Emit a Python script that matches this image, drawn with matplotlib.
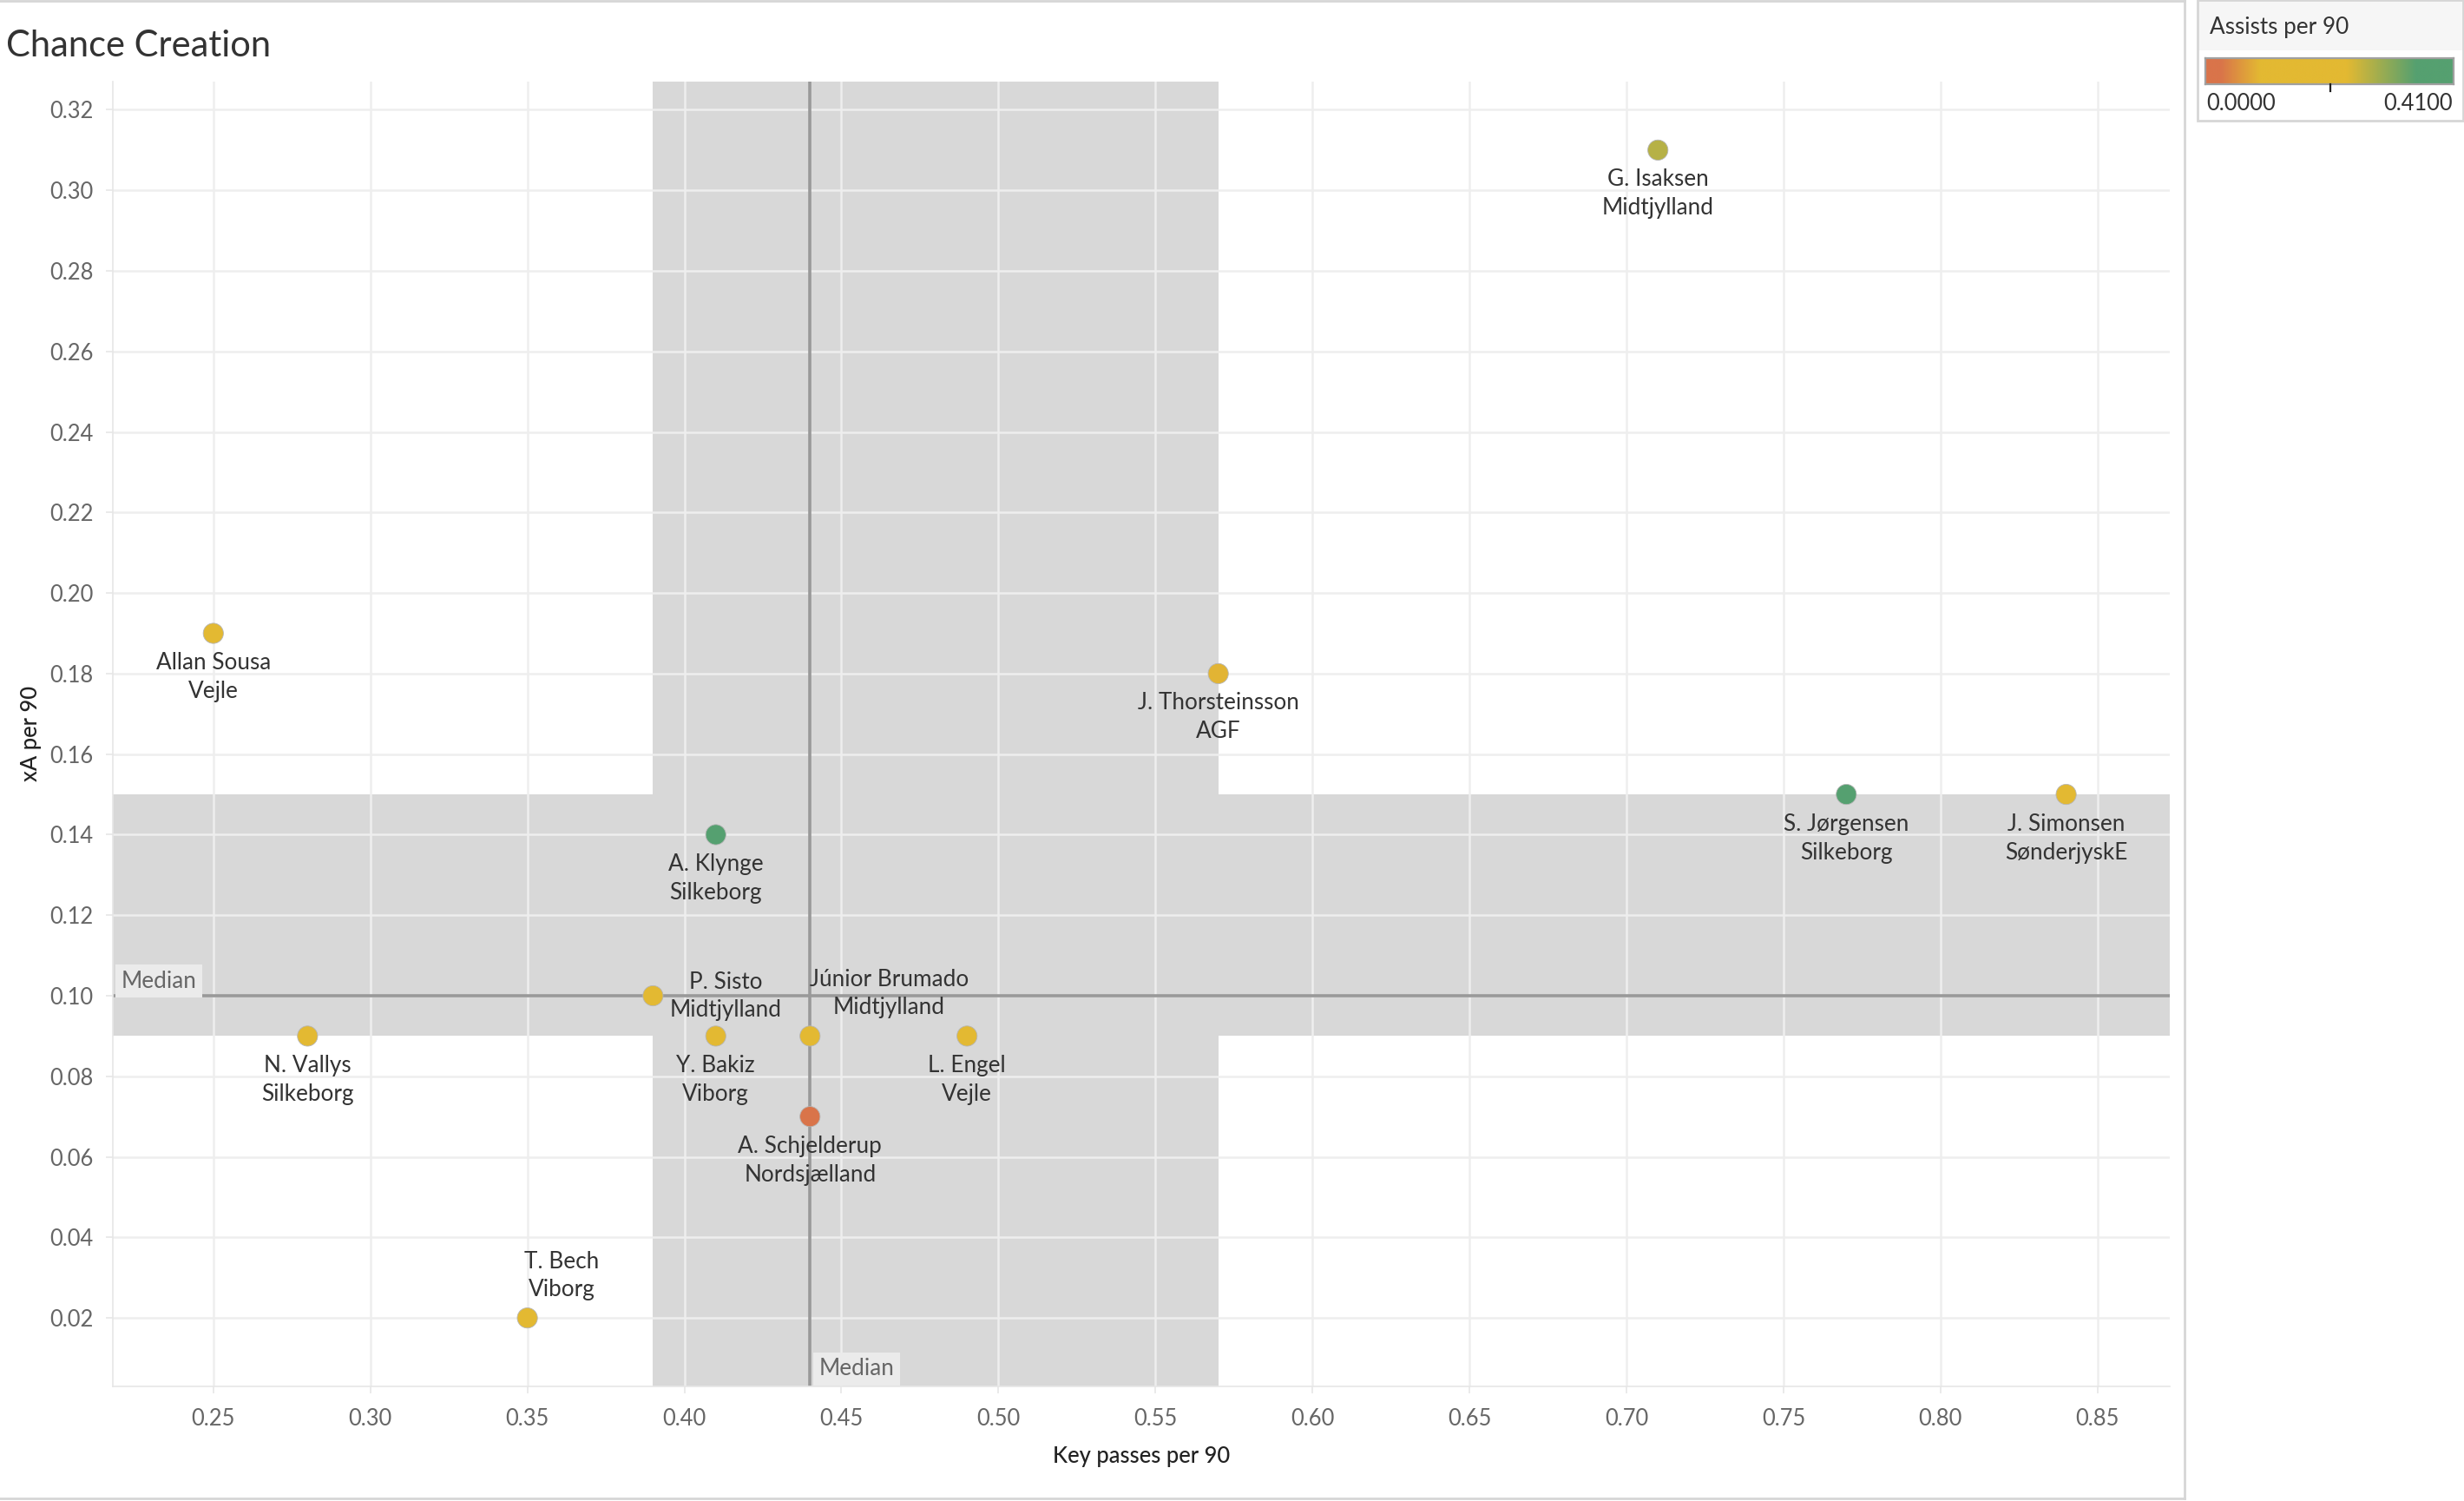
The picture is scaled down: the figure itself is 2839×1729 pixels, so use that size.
import numpy as np
import matplotlib.pyplot as plt
from matplotlib.colors import LinearSegmentedColormap, Normalize
from matplotlib.lines import Line2D
from matplotlib.patches import Rectangle

plt.rcParams['font.family'] = ['Lato', 'DejaVu Sans']

# data
players = ["G. Isaksen", "Allan Sousa", "J. Thorsteinsson", "S. Jørgensen", "J. Simonsen",
           "A. Klynge", "P. Sisto", "Júnior Brumado", "N. Vallys", "Y. Bakiz",
           "L. Engel", "A. Schjelderup", "T. Bech"]
teams = ["Midtjylland", "Vejle", "AGF", "Silkeborg", "SønderjyskE",
         "Silkeborg", "Midtjylland", "Midtjylland", "Silkeborg", "Viborg",
         "Vejle", "Nordsjælland", "Viborg"]
key_passes = [0.71, 0.25, 0.57, 0.77, 0.84, 0.41, 0.39, 0.44, 0.28, 0.41, 0.49, 0.44, 0.35]
xa = [0.31, 0.19, 0.18, 0.15, 0.15, 0.14, 0.10, 0.09, 0.09, 0.09, 0.09, 0.07, 0.02]
assists = [0.27, 0.14, 0.085, 0.37, 0.15, 0.41, 0.12, 0.18, 0.11, 0.20, 0.13, 0.0, 0.10]

median_x = 0.44
median_y = 0.10
band_x = (0.39, 0.57)
band_y = (0.09, 0.15)
assists_range = (0.0, 0.41)

x_ticks = [0.25, 0.30, 0.35, 0.40, 0.45, 0.50, 0.55, 0.60, 0.65, 0.70, 0.75, 0.80, 0.85]
y_ticks = [0.02, 0.04, 0.06, 0.08, 0.10, 0.12, 0.14, 0.16, 0.18, 0.20, 0.22, 0.24, 0.26, 0.28, 0.30, 0.32]

# label placement in pixels: (dx, dy line1, dy line2)
below = (0, -34, -67)
label_pos = {
    "P. Sisto": (84, 16, -16),
    "Júnior Brumado": (91, 65, 33),
    "T. Bech": (40, 65, 33),
}

W, H, DPI = 2839, 1729, 200
fig = plt.figure(figsize=(W / DPI, H / DPI), dpi=DPI)

def fx(px):
    return px / W

def fy(py):
    return 1 - py / H

ax = fig.add_axes([fx(130), fy(1597), fx(2500) - fx(130), fy(94) - fy(1597)])

cmap = LinearSegmentedColormap.from_list("tab", [
    (0.0, "#d9744a"), (0.06, "#d9744a"), (0.22, "#e3b932"),
    (0.57, "#e3b932"), (0.85, "#55a070"), (1.0, "#55a070")])
norm = Normalize(*assists_range)

band_col = "#d8d8d8"
ax.axvspan(*band_x, color=band_col, lw=0, zorder=0)
ax.axhspan(*band_y, color=band_col, lw=0, zorder=0)
ax.set_axisbelow(True)
ax.grid(True, color="#eeeeee", lw=0.9)

ax.axvline(median_x, color="#999999", lw=1.3, zorder=1)
ax.axhline(median_y, color="#999999", lw=1.3, zorder=1)

ax.scatter(key_passes, xa, s=70, c=assists, cmap=cmap, norm=norm,
           edgecolors="#b5b5b5", linewidths=0.3, zorder=3)

lab_fs = 9.4
for name, team, x, y in zip(players, teams, key_passes, xa):
    dx, dy1, dy2 = label_pos.get(name, below)
    ax.annotate(name, (x, y), xytext=(dx, dy1), textcoords="offset pixels",
                ha="center", va="center", fontsize=lab_fs, color="#333333", zorder=4)
    ax.annotate(team, (x, y), xytext=(dx, dy2), textcoords="offset pixels",
                ha="center", va="center", fontsize=lab_fs, color="#333333", zorder=4)

ax.set_xlim(0.218, 0.873)
ax.set_ylim(0.003, 0.327)
ax.set_xticks(x_ticks)
ax.set_yticks(y_ticks)
ax.set_xticklabels([f"{v:.2f}" for v in x_ticks])
ax.set_yticklabels([f"{v:.2f}" for v in y_ticks])
ax.tick_params(axis="both", labelsize=9.2, labelcolor="#666666", color="#e6e6e6",
               length=3, width=0.6)
ax.tick_params(axis="y", pad=5)
ax.tick_params(axis="x", pad=6)
for side in ["top", "right"]:
    ax.spines[side].set_visible(False)
for side in ["left", "bottom"]:
    ax.spines[side].set_color("#e6e6e6")
    ax.spines[side].set_linewidth(0.6)

# median labels
ax.annotate("Median", (0.218, median_y), xytext=(10, 17), textcoords="offset pixels",
            ha="left", va="center", fontsize=9.4, color="#666666", zorder=4,
            bbox=dict(boxstyle="square,pad=0.25", fc="#ebebeb", ec="none"))
ax.annotate("Median", (median_x, 0.003), xytext=(10, 20), textcoords="offset pixels",
            ha="left", va="center", fontsize=9.4, color="#666666", zorder=4,
            bbox=dict(boxstyle="square,pad=0.25", fc="#ebebeb", ec="none"))

fig.text(fx(1315), fy(1678), "Key passes per 90", ha="center", va="center",
         fontsize=9.2, color="#222222", fontweight="medium")
fig.text(fx(36), fy(845), "xA per 90", ha="center", va="center", rotation=90,
         fontsize=9.2, color="#222222", fontweight="medium")

fig.text(fx(7), fy(65), "Chance Creation", ha="left", va="baseline",
         fontsize=15, color="#333333")

# frame lines
sep = "#d6d6d6"
fig.add_artist(Line2D([fx(2517), fx(2517)], [fy(0), fy(1726)], color=sep, lw=1.0))
fig.add_artist(Line2D([0, fx(2517)], [fy(1726), fy(1726)], color=sep, lw=1.0))
fig.add_artist(Line2D([0, fx(2517)], [fy(1), fy(1)], color=sep, lw=1.0))

# colour legend
fig.add_artist(Rectangle((fx(2532), fy(58)), fx(2839) - fx(2532), fy(0) - fy(58),
                         transform=fig.transFigure, fc="#f6f6f6", ec="none"))
fig.add_artist(Rectangle((fx(2532), fy(139)), fx(2838) - fx(2532), fy(0) - fy(139),
                         transform=fig.transFigure, fc="none", ec=sep, lw=1.0))
fig.text(fx(2546), fy(39), "Assists per 90", ha="left", va="baseline",
         fontsize=9.4, color="#333333")
cax = fig.add_axes([fx(2541), fy(97), fx(2827) - fx(2541), fy(67) - fy(97)])
cax.imshow(np.linspace(0, 1, 512)[None, :], cmap=cmap, aspect="auto",
           extent=[0, 1, 0, 1])
cax.set_xticks([])
cax.set_yticks([])
for s in cax.spines.values():
    s.set_color("#a0a0a0")
    s.set_linewidth(0.8)
fig.add_artist(Line2D([fx(2685), fx(2685)], [fy(97), fy(105)], color="#222222", lw=0.8))
fig.text(fx(2542), fy(127), f"{assists_range[0]:.4f}", ha="left", va="baseline",
         fontsize=9.2, color="#333333")
fig.text(fx(2826), fy(127), f"{assists_range[1]:.4f}", ha="right", va="baseline",
         fontsize=9.2, color="#333333")

fig.savefig("out.png", dpi=DPI)
